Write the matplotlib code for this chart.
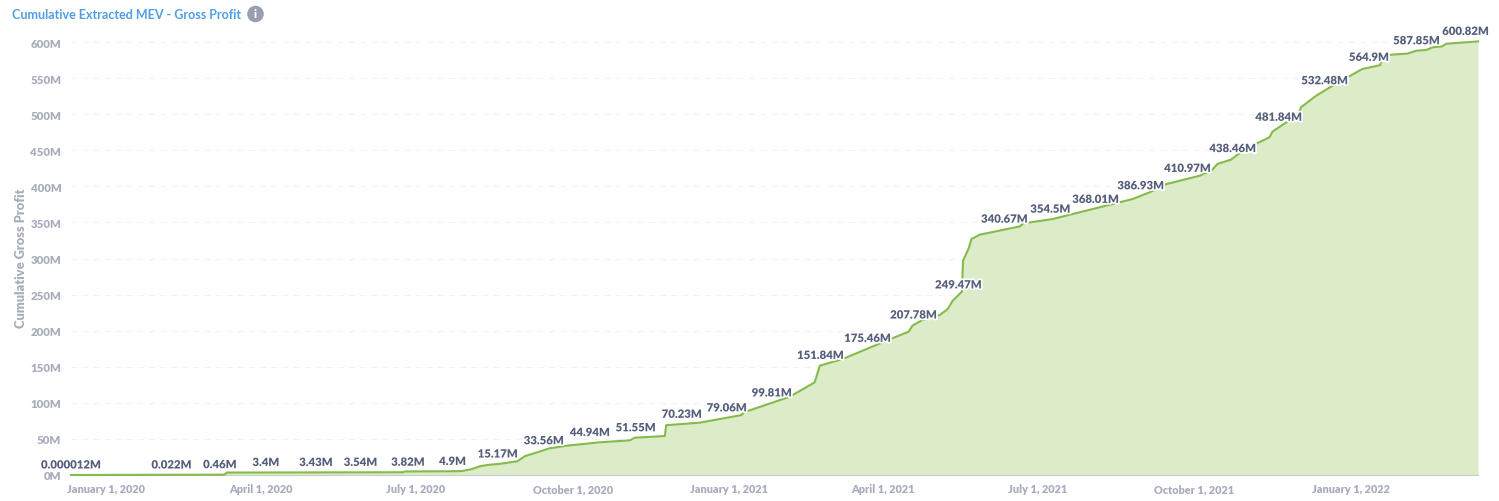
import matplotlib
matplotlib.use("Agg")
import matplotlib.pyplot as plt
import matplotlib.patheffects as pe
from matplotlib.transforms import ScaledTranslation
import pandas as pd

plt.rcParams['font.family'] = ['Lato', 'DejaVu Sans']

START = pd.Timestamp("2020-01-01")
END = pd.Timestamp("2022-04-06")

# Line: days after 2020-01-01, cumulative profit in millions
line_days = [0, 90, 91.5, 195, 196, 223.6, 229.5, 235, 240, 244.7, 251.8, 262, 266.4, 281, 291,
             310.4, 328, 331, 348.6, 349.4, 369, 393.6, 395, 422, 436.6, 439.6, 453, 480.6,
             491.8, 494, 500, 510, 514.7, 517.6, 523, 523.7, 527, 528.6, 533.5, 557, 559,
             576.3, 611.5, 623.2, 633.2, 642.9, 662.6, 670, 673, 681, 686, 696.6, 703.6,
             705.4, 714, 721, 722, 731, 740.6, 758, 768.6, 770, 775, 784.6, 789.7, 795.6, 799.3,
             805, 807.3, 826]
line_values = [0, 0.46, 3.4, 3.82, 4.9, 5.2, 5.5, 8, 12, 14, 15.5, 19, 26, 37, 40.6,
               45.3, 48, 51.7, 54, 69, 72.5, 83, 86.8, 108.5, 128.4, 151.5, 160.7, 188,
               198.6, 207, 215, 221.7, 230, 241.5, 254, 297, 314, 327, 333, 344.5, 348.7,
               354.7, 375.5, 382.4, 391.7, 403, 414.7, 423, 431, 437, 446, 460, 468,
               476, 489.5, 502.5, 509.4, 525.6, 539.4, 562.5, 568, 580, 582.4, 584, 587.9, 589, 592.6,
               594, 597.6, 600.82]

# Value labels
label_days = [0, 59, 87.4, 114.4, 143.8, 170, 197.8, 224, 250.6, 277.6, 304.6, 331.6, 358.6,
              385, 411.4, 440, 467.7, 494.7, 521, 548, 575, 601.5, 628, 655.5, 682, 709,
              736, 762, 790, 818.7]
label_values = [0.000012, 0.022, 0.46, 3.4, 3.43, 3.54, 3.82, 4.9, 15.17, 33.56, 44.94, 51.55,
                70.23, 79.06, 99.81, 151.84, 175.46, 207.78, 249.47, 340.67, 354.5, 368.01,
                386.93, 410.97, 438.46, 481.84, 532.48, 564.9, 587.85, 600.82]
label_texts = ["0.000012M", "0.022M", "0.46M", "3.4M", "3.43M", "3.54M", "3.82M", "4.9M",
               "15.17M", "33.56M", "44.94M", "51.55M", "70.23M", "79.06M", "99.81M",
               "151.84M", "175.46M", "207.78M", "249.47M", "340.67M", "354.5M", "368.01M",
               "386.93M", "410.97M", "438.46M", "481.84M", "532.48M", "564.9M", "587.85M",
               "600.82M"]

y_ticks = list(range(0, 601, 50))
y_tick_labels = [f"{v}M" for v in y_ticks]
x_tick_dates = ["2020-01-01", "2020-04-01", "2020-07-01", "2020-10-01", "2021-01-01",
                "2021-04-01", "2021-07-01", "2021-10-01", "2022-01-01"]
x_tick_labels = ["January 1, 2020", "April 1, 2020", "July 1, 2020", "October 1, 2020",
                 "January 1, 2021", "April 1, 2021", "July 1, 2021", "October 1, 2021",
                 "January 1, 2022"]

W, H = 1499, 502
fig = plt.figure(figsize=(W / 100, H / 100), dpi=100)
ax = fig.add_axes([71 / W, (H - 476) / H, (1478 - 71) / W, 440.2 / H])

x = START + pd.to_timedelta(line_days, unit="D")
ax.fill_between(x, line_values, 0, color="#DCEBC8", lw=0, zorder=2)
ax.plot(x, line_values, color="#84BB4C", lw=1.5, solid_joinstyle="round", zorder=3, clip_on=False)

ax.set_xlim(START, END)
ax.set_ylim(0, 610)
ax.set_yticks(y_ticks, y_tick_labels)
ax.set_xticks(pd.to_datetime(x_tick_dates), x_tick_labels)
ax.grid(axis="y", color="#F0F1F3", lw=0.8, dashes=(5, 5), zorder=1)
ax.set_axisbelow(True)
for s in ("top", "right", "left"):
    ax.spines[s].set_visible(False)
ax.spines["bottom"].set_color("#C9CCD3")
ax.spines["bottom"].set_linewidth(0.8)
ax.spines["bottom"].set_zorder(2.5)

ax.tick_params(axis="y", length=0, pad=7, labelsize=8.2, labelcolor="#A8ADBC")
ax.tick_params(axis="x", length=0, pad=6, labelsize=7.8, labelcolor="#A8ADBC")
for t in ax.get_yticklabels() + ax.get_xticklabels():
    t.set_fontweight("heavy")
shift = ScaledTranslation(35 / 100, 0, fig.dpi_scale_trans)
for t in ax.get_xticklabels():
    t.set_transform(t.get_transform() + shift)

for d, v, s in zip(label_days, label_values, label_texts):
    ax.annotate(s, (START + pd.Timedelta(days=d), v), xytext=(0, 10), textcoords="offset pixels",
                ha="center", va="center", fontsize=8.2, fontweight="heavy", color="#555F7C",
                annotation_clip=False, zorder=6,
                path_effects=[pe.withStroke(linewidth=2.5, foreground="white")])

fig.text(21 / W, 1 - 258 / H, "Cumulative Gross Profit", rotation=90, ha="center", va="center",
         fontsize=9.3, fontweight="heavy", color="#A8ADBC")
fig.text(12 / W, 1 - 15 / H, "Cumulative Extracted MEV - Gross Profit", ha="left", va="center",
         fontsize=9.0, fontweight="bold", color="#509EE3")
fig.text(255.5 / W, 1 - 15 / H, "i", ha="center", va="center", fontsize=8, fontweight="heavy",
         color="white", bbox=dict(boxstyle="circle,pad=0.25", fc="#9A9FB0", ec="none"))

fig.savefig("out.png", dpi=100, facecolor="white")
